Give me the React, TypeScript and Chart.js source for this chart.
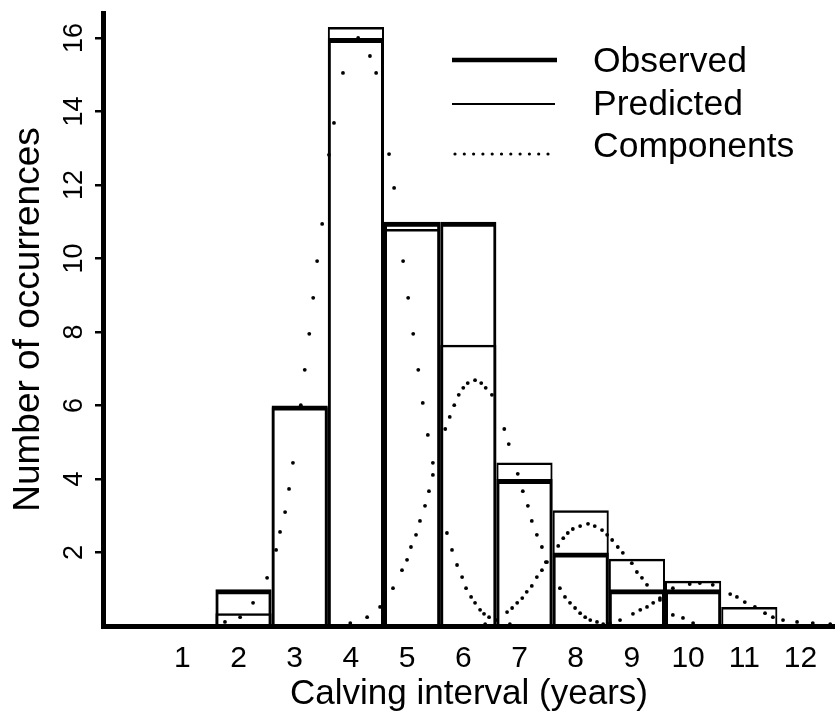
import React, { useEffect, useRef } from 'react';
import { Chart, registerables } from 'chart.js';

Chart.register(...registerables);

// ---- data ----
const years = [0, 1, 2, 3, 4, 5, 6, 7, 8, 9, 10, 11, 12];
const observed = [0, 0, 1, 6, 16, 11, 11, 4, 2, 1, 1, 0, 0];
const predicted = [0, 0, 0.35, 5.95, 16.3, 10.8, 7.65, 4.45, 3.15, 1.83, 1.23, 0.52, 0];

const comp1X = [1.51, 1.67, 1.94, 2.17, 2.42, 2.58, 2.65, 2.74, 2.81, 2.88, 3.02, 3.09, 3.17, 3.24, 3.31, 3.4, 3.52, 3.61, 3.77, 4.04, 4.25, 4.36, 4.59, 4.68, 4.84, 4.93, 5.02, 5.11, 5.19, 5.28, 5.37, 5.62, 5.71, 5.8, 5.89, 5.96, 6.05, 6.12, 6.21, 6.28, 6.37, 6.74];
const comp1Y = [0, 0.11, 0.24, 0.63, 1.31, 2.07, 2.56, 3.1, 3.73, 4.44, 6.01, 6.97, 7.95, 8.93, 9.93, 10.94, 12.82, 13.69, 15.05, 16.0, 15.51, 15.05, 12.84, 11.92, 9.93, 8.93, 7.95, 6.97, 6.07, 5.2, 4.44, 2.53, 2.07, 1.66, 1.33, 1.03, 0.79, 0.63, 0.44, 0.33, 0.24, 0.05];

const comp2X = [3.59, 3.9, 4.2, 4.43, 4.66, 4.82, 4.91, 4.98, 5.07, 5.14, 5.23, 5.3, 5.37, 5.59, 5.67, 5.75, 5.83, 5.91, 5.99, 6.12, 6.23, 6.31, 6.42, 6.64, 6.72, 6.88, 6.97, 7.06, 7.13, 7.22, 7.31, 7.38, 7.63, 7.72, 7.81, 7.9, 7.99, 8.08, 8.17, 8.29, 8.4];
const comp2Y = [0, 0.08, 0.24, 0.52, 1.03, 1.52, 1.8, 2.15, 2.48, 2.86, 3.27, 3.67, 4.11, 5.36, 5.69, 6.01, 6.29, 6.48, 6.61, 6.69, 6.61, 6.48, 6.29, 5.36, 4.95, 4.14, 3.67, 3.27, 2.86, 2.48, 2.15, 1.74, 1.03, 0.79, 0.63, 0.49, 0.35, 0.24, 0.16, 0.11, 0.05];

const comp3X = [6.3, 6.51, 6.69, 6.78, 6.87, 6.96, 7.04, 7.13, 7.22, 7.31, 7.4, 7.6, 7.69, 7.77, 7.86, 7.99, 8.13, 8.25, 8.38, 8.47, 8.56, 8.66, 8.75, 8.91, 9.0, 9.09, 9.18, 9.41, 9.64, 9.82, 10.0];
const comp3Y = [0.05, 0.16, 0.38, 0.49, 0.63, 0.76, 0.93, 1.09, 1.33, 1.52, 1.74, 2.18, 2.39, 2.53, 2.64, 2.72, 2.78, 2.72, 2.61, 2.48, 2.34, 2.15, 1.99, 1.71, 1.47, 1.31, 1.12, 0.71, 0.3, 0.22, 0.08];

const comp4X = [8.52, 8.7, 8.93, 9.06, 9.18, 9.29, 9.41, 9.64, 9.94, 10.12, 10.35, 10.66, 10.78, 10.92, 11.1, 11.28, 11.42, 11.6, 11.85, 12.13, 12.44];
const comp4Y = [0.08, 0.16, 0.33, 0.44, 0.52, 0.63, 0.76, 1.03, 1.14, 1.17, 1.12, 0.87, 0.79, 0.65, 0.52, 0.35, 0.24, 0.16, 0.11, 0.08, 0.05];

const xTickValues = [1, 2, 3, 4, 5, 6, 7, 8, 9, 10, 11, 12];
const yTickValues = [2, 4, 6, 8, 10, 12, 14, 16];
const xTitle = 'Calving interval (years)';
const yTitle = 'Number of occurrences';
const legendLabels = ['Observed', 'Predicted', 'Components'];

const FONT = '"Liberation Sans", Arial, Helvetica, sans-serif';

const legendPlugin = {
  id: 'refLegend',
  afterDraw(chart: any) {
    const ctx = chart.ctx as CanvasRenderingContext2D;
    ctx.save();
    ctx.fillStyle = '#000';
    ctx.strokeStyle = '#000';
    ctx.font = `35.5px ${FONT}`;
    ctx.textBaseline = 'alphabetic';
    ctx.textAlign = 'left';
    const rows = [
      { label: legendLabels[0], y: 60, base: 72, width: 4.5, dash: [] as number[], x0: 452, x1: 557 },
      { label: legendLabels[1], y: 104, base: 115, width: 2.2, dash: [] as number[], x0: 452, x1: 555 },
      { label: legendLabels[2], y: 154, base: 157, width: 3.2, dash: [0, 9.3], x0: 455, x1: 548.5 },
    ];
    for (const r of rows) {
      ctx.beginPath();
      ctx.lineWidth = r.width;
      ctx.setLineDash(r.dash);
      ctx.lineCap = r.dash.length ? 'round' : 'butt';
      ctx.moveTo(r.x0, r.y);
      ctx.lineTo(r.x1, r.y);
      ctx.stroke();
      ctx.setLineDash([]);
      ctx.fillText(r.label, 593, r.base);
    }
    ctx.restore();
  },
};

function pts(xs: number[], ys: number[]) {
  return xs.map((x, i) => ({ x, y: ys[i] }));
}

function compDataset(xs: number[], ys: number[]) {
  return {
    type: 'line' as const,
    label: legendLabels[2],
    data: pts(xs, ys),
    showLine: false,
    pointRadius: 1.9,
    pointBackgroundColor: '#000',
    pointBorderWidth: 0,
    pointHoverRadius: 0,
  };
}

export default function App() {
  const ref = useRef<HTMLCanvasElement | null>(null);

  useEffect(() => {
    document.body.style.margin = '0';
    document.body.style.background = '#fff';
    const canvas = ref.current;
    if (!canvas) return;
    const chart = new Chart(canvas, {
      type: 'bar',
      data: {
        datasets: [
          {
            type: 'bar',
            label: legendLabels[0],
            data: pts(years, observed),
            borderColor: '#000',
            backgroundColor: 'rgba(0,0,0,0)',
            borderWidth: { top: 5, left: 3, right: 3, bottom: 0 },
            grouped: false,
            barPercentage: 1,
            categoryPercentage: 1,
            inflateAmount: 0,
          } as any,
          {
            type: 'bar',
            label: legendLabels[1],
            data: pts(years, predicted),
            borderColor: '#000',
            backgroundColor: 'rgba(0,0,0,0)',
            borderWidth: { top: 2.5, left: 2, right: 2, bottom: 0 },
            grouped: false,
            barPercentage: 1,
            categoryPercentage: 1,
            inflateAmount: 0,
          } as any,
          compDataset(comp1X, comp1Y) as any,
          compDataset(comp2X, comp2Y) as any,
          compDataset(comp3X, comp3Y) as any,
          compDataset(comp4X, comp4Y) as any,
        ],
      },
      options: {
        responsive: false,
        animation: false,
        devicePixelRatio: 1,
        events: [],
        layout: { padding: { top: 13, left: 0, right: 0, bottom: 0 }, autoPadding: false } as any,
        plugins: { legend: { display: false }, tooltip: { enabled: false } },
        scales: {
          x: {
            type: 'linear',
            min: -0.5,
            max: 12.525,
            offset: false,
            afterBuildTicks: (s: any) => {
              s.ticks = xTickValues.map((v) => ({ value: v }));
            },
            afterFit: (s: any) => {
              s.height = 93;
              s.paddingLeft = 0;
              s.paddingRight = 0;
              s.paddingTop = 0;
              s.paddingBottom = 0;
            },
            grid: { display: false, drawTicks: false, offset: false },
            border: { display: true, color: '#000', width: 5 },
            ticks: {
              font: { family: FONT, size: 30 },
              color: '#000',
              padding: 15,
              labelOffset: -5,
              minRotation: 0,
              maxRotation: 0,
              autoSkip: false,
            },
            title: {
              display: true,
              text: xTitle,
              font: { family: FONT, size: 35 },
              color: '#000',
              padding: { top: 0, bottom: 4 },
            },
          } as any,
          y: {
            type: 'linear',
            min: 0,
            max: 16.68,
            afterBuildTicks: (s: any) => {
              s.ticks = yTickValues.map((v) => ({ value: v }));
            },
            afterFit: (s: any) => {
              s.width = 103;
              s.paddingLeft = 0;
              s.paddingRight = 0;
              s.paddingTop = 0;
              s.paddingBottom = 0;
            },
            grid: { display: true, drawOnChartArea: false, drawTicks: true, tickLength: 8, lineWidth: 2.5, color: '#000' },
            border: { display: true, color: '#000', width: 5 },
            ticks: {
              font: { family: FONT, size: 27 },
              color: '#000',
              padding: 5,
              minRotation: 90,
              maxRotation: 90,
              crossAlign: 'center',
              autoSkip: false,
            },
            title: {
              display: true,
              text: yTitle,
              font: { family: FONT, size: 37 },
              color: '#000',
              padding: { top: 7, bottom: 0 },
            },
          } as any,
        },
      },
      plugins: [legendPlugin],
    });
    return () => chart.destroy();
  }, []);

  return (
    <div style={{ width: 835, height: 719, background: '#fff' }}>
      <canvas ref={ref} width={835} height={719} style={{ display: 'block' }} />
    </div>
  );
}
